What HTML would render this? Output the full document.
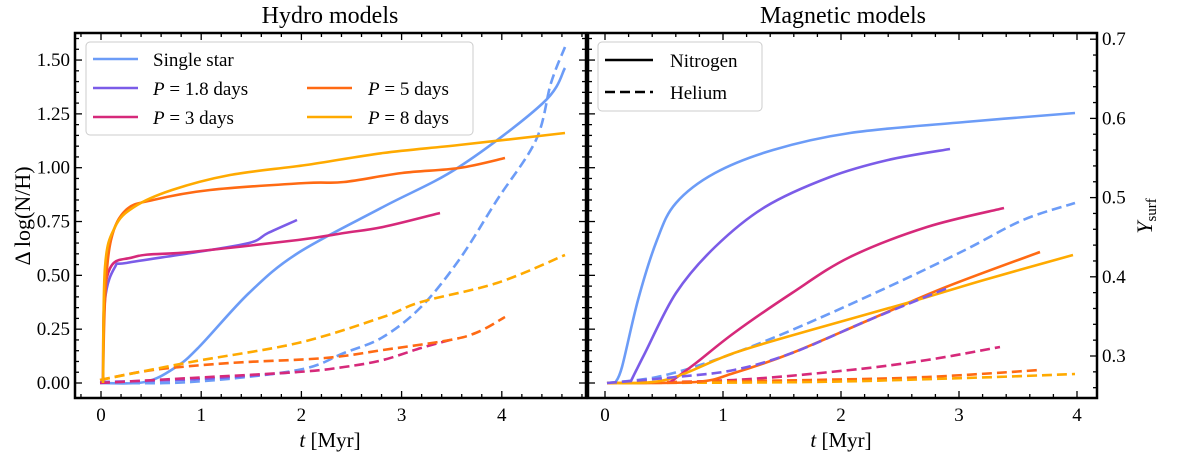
<!DOCTYPE html>
<html><head><meta charset="utf-8"><style>
html,body{margin:0;padding:0;background:#fff;width:1184px;height:456px;overflow:hidden}
svg{display:block}
text{font-family:"Liberation Serif",serif;fill:#000}
</style></head><body>
<svg id="s" width="1184" height="456" viewBox="0 0 1184 456" xmlns="http://www.w3.org/2000/svg">
<g id="cur" fill="none" stroke-width="2.6" stroke-linejoin="round" stroke-linecap="butt">
<polyline stroke="#6c9cf7" points="100,383 145,382 176,367 199,347 249,293 298,253 383,207 459,167 543,103 565,68"/>
<polyline stroke="#6c9cf7" stroke-dasharray="10,5" points="100,383 191,382 298,370 344,353 383,337 421,307 459,260 497,200 536,140 551,83 565,47"/>
<polyline stroke="#7b5ce8" stroke-dasharray="10,5" points="100,382 200,379 297,372"/>
<polyline stroke="#d6297a" stroke-dasharray="10,5" points="100,383 191,378 298,372 344,367 383,360 421,348 450,340"/>
<polyline stroke="#ff6a13" stroke-dasharray="10,5" points="100,380 153,370 230,363 325,358 383,350 450,340 478,332 505,317"/>
<polyline stroke="#ffaa00" stroke-dasharray="10,5" points="100,380 191,362 298,343 383,317 421,302 497,283 565,255"/>
<polyline stroke="#7b5ce8" points="103,383 105,300 115,267 126,263 191,253 249,243 268,233 297,220"/>
<polyline stroke="#d6297a" points="103,383 107,277 134,257 191,252 298,240 344,233 383,227 440,213"/>
<polyline stroke="#ff6a13" points="103,383 105,300 111,240 126,210 153,200 210,190 306,183 344,182 402,173 459,168 505,158"/>
<polyline stroke="#ffaa00" points="103,383 105,267 115,227 134,207 172,190 230,175 306,165 383,153 459,145 565,133"/>
<polyline stroke="#6c9cf7" stroke-dasharray="10,5" points="607,383 657,377 715,360 792,330 888,287 965,250 1023,220 1075,203"/>
<polyline stroke="#d6297a" stroke-dasharray="10,5" points="607,383 734,380 850,370 927,360 1000,347"/>
<polyline stroke="#ff6a13" stroke-dasharray="10,5" points="607,383 811,380 927,377 1040,370"/>
<polyline stroke="#ffaa00" stroke-dasharray="10,5" points="607,383 811,382 965,378 1075,374"/>
<polyline stroke="#6c9cf7" points="615,383 622,367 638,300 657,240 676,203 715,173 773,150 850,133 965,122 1075,113"/>
<polyline stroke="#7b5ce8" points="630,383 645,353 676,293 715,247 765,207 830,177 888,160 950,149"/>
<polyline stroke="#d6297a" points="669,383 696,363 734,333 792,293 850,257 927,227 1004,208"/>
<polyline stroke="#ff6a13" points="607,383 696,382 734,373 792,353 869,320 946,287 1040,252"/>
<polyline stroke="#ffaa00" points="607,383 665,380 734,353 811,330 907,303 984,280 1073,255"/>
<polyline stroke="#7b5ce8" stroke-dasharray="10,5" points="607,383 676,377 734,370 792,353 869,320 950,287"/>
</g>
<rect x="86" y="42" width="387" height="93" rx="4" fill="#fff" fill-opacity="0.8" stroke="#ccc" stroke-width="1"/>
<g stroke-width="2.6">
<line x1="93" y1="59" x2="138" y2="59" stroke="#6c9cf7"/>
<line x1="93" y1="88" x2="138" y2="88" stroke="#7b5ce8"/>
<line x1="93" y1="117" x2="138" y2="117" stroke="#d6297a"/>
<line x1="307" y1="88" x2="352" y2="88" stroke="#ff6a13"/>
<line x1="307" y1="117" x2="352" y2="117" stroke="#ffaa00"/>
</g>
<g font-size="19">
<text x="153" y="66">Single star</text>
<text x="153" y="95"><tspan font-style="italic">P</tspan> = 1.8 days</text>
<text x="153" y="124"><tspan font-style="italic">P</tspan> = 3 days</text>
<text x="368" y="95"><tspan font-style="italic">P</tspan> = 5 days</text>
<text x="368" y="124"><tspan font-style="italic">P</tspan> = 8 days</text>
</g>
<rect x="598" y="42" width="164" height="69" rx="4" fill="#fff" fill-opacity="0.8" stroke="#ccc" stroke-width="1"/>
<line x1="605" y1="60" x2="653" y2="60" stroke="#000" stroke-width="2.6"/>
<line x1="605" y1="92" x2="653" y2="92" stroke="#000" stroke-width="2.6" stroke-dasharray="10,5"/>
<text x="670" y="67" font-size="19">Nitrogen</text>
<text x="670" y="99" font-size="19">Helium</text>
<g id="ax" stroke="#000" fill="none"></g>
<g font-size="19" id="lab"></g>
<text x="330" y="23" font-size="24" text-anchor="middle">Hydro models</text>
<text x="843" y="23" font-size="24" text-anchor="middle">Magnetic models</text>
<text x="330" y="447" font-size="21" text-anchor="middle"><tspan font-style="italic">t</tspan> [Myr]</text>
<text x="841" y="447" font-size="21" text-anchor="middle"><tspan font-style="italic">t</tspan> [Myr]</text>
<text transform="translate(30,216) rotate(-90)" font-size="22" text-anchor="middle">Δ log(N/H)</text>
<text transform="translate(1152,216) rotate(-90)" font-size="22" text-anchor="middle"><tspan font-style="italic">Y</tspan><tspan font-size="15" dy="4">surf</tspan></text>
</svg>
<script>
var NS='http://www.w3.org/2000/svg';
// smooth polylines
document.querySelectorAll('#cur polyline').forEach(function(pl){
 var p=pl.getAttribute('points').trim().split(/\s+/).map(function(s){return s.split(',').map(Number)});
 var d='M'+p[0][0]+','+p[0][1];
 for(var i=0;i<p.length-1;i++){var a=p[i-1]||p[i],b=p[i],c=p[i+1],e=p[i+2]||c;
  var c1=[b[0]+(c[0]-a[0])/6,b[1]+(c[1]-a[1])/6],c2=[c[0]-(e[0]-b[0])/6,c[1]-(e[1]-b[1])/6];
  d+=' C'+c1[0].toFixed(1)+','+c1[1].toFixed(1)+' '+c2[0].toFixed(1)+','+c2[1].toFixed(1)+' '+c[0]+','+c[1];}
 var path=document.createElementNS(NS,'path');path.setAttribute('d',d);
 ['stroke','stroke-dasharray'].forEach(function(k){if(pl.getAttribute(k))path.setAttribute(k,pl.getAttribute(k));});
 pl.parentNode.replaceChild(path,pl);
});
var ax=document.getElementById('ax'),lab=document.getElementById('lab');
function L(x1,y1,x2,y2,w){var e=document.createElementNS(NS,'line');e.setAttribute('x1',x1);e.setAttribute('y1',y1);e.setAttribute('x2',x2);e.setAttribute('y2',y2);e.setAttribute('stroke-width',w||1.3);ax.appendChild(e);}
function T(x,y,s,a){var e=document.createElementNS(NS,'text');e.setAttribute('x',x);e.setAttribute('y',y);e.setAttribute('text-anchor',a||'middle');e.textContent=s;lab.appendChild(e);}
var T0=33,B=398;
function panel(x0,x1,tx0,pm,ylab){
 var r=document.createElementNS(NS,'rect');r.setAttribute('x',x0);r.setAttribute('y',T0);r.setAttribute('width',x1-x0);r.setAttribute('height',B-T0);r.setAttribute('stroke-width',2.5);ax.appendChild(r);
 for(var i=-1;i<=25;i++){var x=tx0+pm*i/5;if(x<=x0+1||x>=x1-1)continue;var m=i%5==0;var l=m?7:4;L(x,B,x,B-l);L(x,T0,x,T0+l);if(m&&i>=0)T(x,421,String(i/5));}
 for(var j=0;j<=35;j++){var y=383-215.3*j*0.05;if(y<=T0+1)continue;var m=j%5==0;var l=m?7:4;L(x0,y,x0+l,y);if(ylab){L(x1,y,x1-l,y);if(m)T(x0-5,y+6,(j*0.05).toFixed(2),'end');}}
}
panel(75,586,101,100.2,true);
panel(588,1097,605,118,false);
for(var k=0;k<=30;k++){var v=0.24+k*0.02;var y=356-(v-0.3)*792;if(y>=B-1||y<=T0+1)continue;var m=Math.abs((v*10)-Math.round(v*10))<0.01;var l=m?7:4;L(1097,y,1097-l,y);if(m)T(1102,y+6,v.toFixed(1),'start');}
</script>
</body></html>
